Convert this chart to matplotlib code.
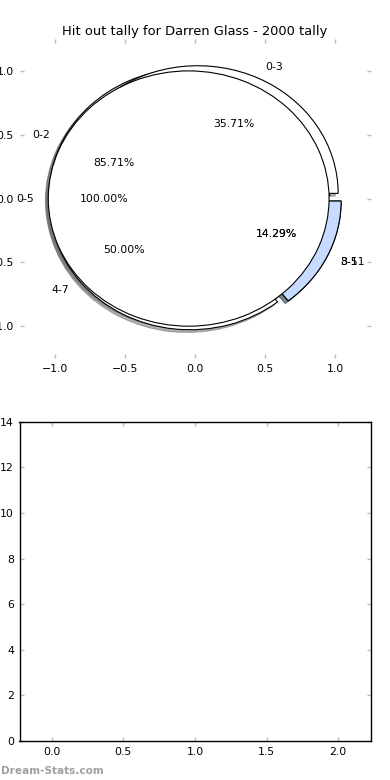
import matplotlib
matplotlib.use('Agg')
import matplotlib.pyplot as plt

# hit out bins for each pie, drawn on top of each other
pie_a_labels = ['0-2', '3-5']
pie_a_values = [6, 1]
pie_c_labels = ['0-3', '4-7', '8-11']
pie_c_values = [5, 7, 2]
pie_b_labels = ['0-5']
pie_b_values = [7]

pie_a_colors = ['white', 'white']
pie_c_colors = ['white', 'white', '#c6dbff']
pie_b_colors = ['white']

bar_xticks = [0.0, 0.5, 1.0, 1.5, 2.0]
bar_yticks = [0, 2, 4, 6, 8, 10, 12, 14]

fs = 7.8
tick_grey = '#bbbbbb'

fig = plt.figure(figsize=(3.9, 7.8), dpi=100)
fig.subplots_adjust(left=0.05, right=0.95, top=0.95, bottom=0.05, hspace=0.2)

ax1 = fig.add_subplot(2, 1, 1)
wp = dict(edgecolor='black', linewidth=0.8)
sh = dict(ox=-0.015, oy=-0.015, shade=0.6)
for vals, labs, cols in [(pie_a_values, pie_a_labels, pie_a_colors),
                         (pie_c_values, pie_c_labels, pie_c_colors),
                         (pie_b_values, pie_b_labels, pie_b_colors)]:
    _, texts, autotexts = ax1.pie(vals, labels=labs, colors=cols, explode=[0.045] * len(vals),
                                  autopct='%1.2f%%', shadow=sh, wedgeprops=wp)
    for t in texts + autotexts:
        t.set_fontsize(fs)

ax1.set_aspect('auto')
ax1.set_frame_on(False)
ax1.set_xlim(-1.25, 1.25)
ax1.set_ylim(-1.25, 1.25)
ax1.set_xticks([-1.0, -0.5, 0.0, 0.5, 1.0])
ax1.set_yticks([-1.0, -0.5, 0.0, 0.5, 1.0])
ax1.tick_params(direction='in', top=True, right=True, color=tick_grey, length=3,
                width=1, labelsize=fs, pad=4)
ax1.set_title('Hit out tally for Darren Glass - 2000 tally', fontsize=9.4, pad=3)

ax2 = fig.add_subplot(2, 1, 2)
ax2.set_xlim(-0.225, 2.225)
ax2.set_ylim(0, 14)
ax2.set_xticks(bar_xticks)
ax2.set_yticks(bar_yticks)
ax2.tick_params(direction='in', top=True, right=True, color=tick_grey, length=3,
                width=1, labelsize=fs, pad=4)
for s in ax2.spines.values():
    s.set_linewidth(1)

fig.text(0.002, 0.005, 'Dream-Stats.com', color='#a0a0a0', fontsize=7.6,
         fontweight='bold', ha='left', va='bottom')

fig.savefig('out.png', dpi=100)
